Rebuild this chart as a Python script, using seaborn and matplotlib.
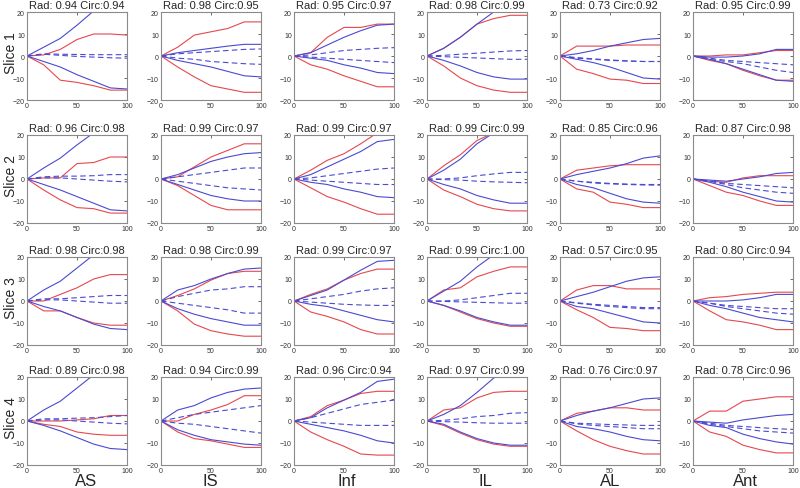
import matplotlib
matplotlib.use("Agg")
import matplotlib.pyplot as plt
import seaborn as sns

pct = [0, 16.7, 33.3, 50, 66.7, 83.3, 100]
slices = ["Slice 1", "Slice 2", "Slice 3", "Slice 4"]
segments = ["AS", "IS", "Inf", "IL", "AL", "Ant"]

rad = [[0.94, 0.98, 0.95, 0.98, 0.73, 0.95],
       [0.96, 0.99, 0.99, 0.99, 0.85, 0.87],
       [0.98, 0.98, 0.99, 0.99, 0.57, 0.80],
       [0.89, 0.94, 0.96, 0.97, 0.76, 0.78]]
circ = [[0.94, 0.95, 0.97, 0.99, 0.92, 0.99],
        [0.98, 0.97, 0.97, 0.99, 0.96, 0.98],
        [0.98, 0.99, 0.97, 1.00, 0.95, 0.94],
        [0.98, 0.99, 0.94, 0.99, 0.97, 0.96]]

# red solid, upper envelope
red_upper = [
    [[0, 0.5, 3, 7.5, 10, 10, 9.5], [0, 4, 9.5, 11, 12.5, 15.5, 15.5], [0, 1.5, 8.5, 13, 13, 14.5, 14.5],
     [0, 3.5, 8.5, 14.5, 17, 18.5, 18.5], [0, 4.5, 4.5, 4.5, 5, 5, 5], [0, 0, 0.5, 0.5, 1.5, 2.5, 2.5]],
    [[0, 0.5, 0.5, 7, 7.5, 10, 10], [0, 1, 5.5, 10, 13, 16, 16], [0, 4, 8.5, 11.5, 16, 21, 26],
     [0, 6, 11, 17.5, 21, 24, 26], [0, 4, 5, 6, 6.5, 6.5, 6.5], [0, -1, -1.5, 0.5, 1.5, 1.5, 1.5]],
    [[0, 0, 3, 6, 10, 12, 12], [0, 2.5, 5.5, 9.5, 12.5, 13.5, 13.5], [0, 3, 5.5, 9.5, 12.5, 14.5, 14.5],
     [0, 5, 6, 11, 13.5, 15.5, 15.5], [0, 5, 7, 7, 5.5, 5.5, 5.5], [0, 1.5, 2, 3, 3.5, 4, 4]],
    [[0, 0, 0, 0.5, 1, 2.5, 2.5], [0, 0, 3, 5, 7.5, 11.5, 11.5], [0, 2, 7, 9.5, 12.5, 13.5, 13.5],
     [0, 5, 6, 10.5, 13, 13.5, 13.5], [0, 3.5, 4.5, 6, 6, 5, 5], [0, 4.5, 4.5, 9, 10, 11, 11]],
]
# red solid, lower envelope
red_lower = [
    [[0, -4, -11, -12, -13.5, -15.5, -15.5], [0, -5, -9.5, -13.5, -15, -16.5, -16.5], [0, -4, -6, -9, -11.5, -14, -14],
     [0, -4.5, -10, -13.5, -15.5, -16.5, -16.5], [0, -6, -8, -10.5, -11, -12.5, -12.5], [0, -2, -3.5, -6.5, -9, -11, -11]],
    [[0, -5, -9.5, -13, -13.5, -15.5, -15.5], [0, -3, -7.5, -12, -14, -14, -14], [0, -4, -8, -10.5, -13.5, -16, -16],
     [0, -5, -8, -11.5, -13.5, -14.5, -14.5], [0, -4.5, -6, -10.5, -11.5, -13, -13], [0, -3, -6, -7.5, -10, -12, -12]],
    [[0, -4.5, -4.5, -7.5, -10, -11, -11], [0, -4.5, -10.5, -13.5, -15, -16, -16], [0, -5, -7, -9.5, -13, -15, -15],
     [0, -2, -5, -8, -10, -11.5, -11.5], [0, -4, -7.5, -12, -12.5, -13.5, -13.5], [0, -4.5, -8.5, -9.5, -11, -13, -13]],
    [[0, -1.5, -2.5, -5, -6, -6.5, -6.5], [0, -5, -8, -9, -10.5, -12, -12], [0, -5, -8.5, -11.5, -15, -15.5, -15.5],
     [0, -2, -5.5, -8.5, -10.5, -11.5, -11.5], [0, -4.5, -8.5, -11.5, -13.5, -15, -15], [0, -5, -7, -11, -13, -14.5, -14.5]],
]
# blue solid, upper envelope
blue_upper = [
    [[0, 4, 8, 14, 20.5, 27, 33], [0, 1.5, 2.5, 3.5, 4.5, 5.3, 5.3], [0, 1.5, 5, 8.5, 11.5, 14, 14.5],
     [0, 3.5, 8.5, 14.5, 20, 25, 28], [0, 1, 2.5, 4.5, 6, 7.5, 8], [0, -0.5, -0.5, 0, 1, 3, 3]],
    [[0, 5, 9.5, 15.5, 21, 27, 32], [0, 2, 5, 8, 10, 11.5, 12], [0, 2, 5.5, 9, 12.5, 17, 18],
     [0, 4, 9, 16, 21, 26, 30], [0, 2, 3.5, 5, 7, 9.5, 10.5], [0, -0.5, -1, 0, 1, 2.5, 3]],
    [[0, 5, 9, 15, 21, 27, 32], [0, 5, 7, 10, 12.5, 14.5, 15], [0, 2.5, 5, 9.5, 14, 18, 18.5],
     [0, 4.5, 9, 15.5, 21, 27, 32], [0, 2, 4, 6.5, 9, 10.5, 11], [0, 0, 0, 0.5, 1.5, 3, 3]],
    [[0, 5, 9, 15, 21, 27, 32], [0, 5, 7, 10.5, 13, 14.5, 15], [0, 1.5, 6, 9.5, 13, 18, 19],
     [0, 3, 7, 13, 19.5, 25, 30], [0, 2.5, 4.5, 6, 8, 10, 10.5], [0, -0.5, -1, 0.5, 1.5, 2.5, 3]],
]
# blue solid, lower envelope
blue_lower = [
    [[0, -2.5, -5, -8.5, -11.5, -14.5, -15], [0, -2, -3.5, -5, -7, -9, -9.5], [0, -1, -2, -4, -5.5, -7.5, -8],
     [0, -2, -4.5, -7.5, -9.5, -10.5, -10.5], [0, -1.5, -3, -5, -7.5, -10, -10.5], [0, -1.5, -3.5, -6, -8.5, -11, -11.5]],
    [[0, -2.5, -5, -8, -11, -14, -14.5], [0, -2.5, -5, -7.5, -9, -10, -10], [0, -1.5, -2.5, -4.5, -6, -8, -8.5],
     [0, -2.5, -4.5, -7.5, -9.5, -11, -11], [0, -2.5, -4, -6.5, -9, -10.5, -11], [0, -1.5, -3.5, -6, -8, -10, -10.5]],
    [[0, -2.5, -4.5, -7.5, -10.5, -12.5, -13], [0, -3.5, -6, -8, -9.5, -11, -11], [0, -1.5, -2.5, -4.5, -6.5, -8.5, -9.5],
     [0, -2, -4.5, -7.5, -9.5, -11, -11], [0, -2.5, -3.5, -5.5, -7.5, -9.5, -10], [0, -2, -3.5, -5.5, -7.5, -8.5, -9.5]],
    [[0, -2, -4.5, -7.5, -10.5, -12.5, -13], [0, -4, -6.5, -8.5, -9.5, -10.5, -11], [0, -1.5, -3, -4.5, -6.5, -9, -10],
     [0, -1.5, -5, -8, -10, -11, -11], [0, -2.5, -3.5, -5, -7, -8.5, -9], [0, -2, -3, -6, -8, -9.5, -10.5]],
]
# blue dashed, upper
dash_upper = [
    [[0, 1, 0.8, 0.7, 0.6, 0.6, 0.6], [0, 1, 1.5, 2, 2.5, 3, 3.2], [0, 0.5, 1.5, 2.5, 3, 3.5, 3.8],
     [0, 0.3, 0.8, 1.3, 1.8, 2.3, 2.5], [0, -0.7, -1.3, -1.8, -2.2, -2.5, -2.5], [0, -1, -2, -2.5, -3, -3.5, -4]],
    [[0, 1, 1.3, 1.3, 1.5, 2, 2], [0, 1, 2, 3, 4, 5, 5], [0, 0.5, 1.5, 2.5, 3.5, 4.5, 5],
     [0, 0, 0.5, 1.5, 2.3, 3, 3], [0, -1, -1.5, -2, -2.3, -2.5, -2.5], [0, -1, -2, -2.5, -3, -3.5, -4]],
    [[0, 1, 1, 1.5, 2, 2.5, 2.5], [0, 2, 3.5, 5, 5.5, 6.5, 6.5], [0, 1, 2, 3, 4.5, 5.5, 6],
     [0, 0, 0.5, 1.5, 2.5, 3.5, 3.5], [0, -0.8, -1.5, -2, -2.5, -3, -3], [0, -1, -2, -2.5, -3, -3.5, -3.5]],
    [[0, 1, 1, 1.3, 1.5, 2, 2.5], [0, 1.5, 3, 4, 5, 6, 7], [0, 1.5, 3.5, 5.5, 7.5, 8.5, 9.5],
     [0, 0.3, 1, 2, 2.5, 3.5, 3.8], [0, -1, -1.3, -1.6, -1.8, -2, -2], [0, -1, -2, -2.5, -3, -3.5, -3.8]],
]
# blue dashed, lower
dash_lower = [
    [[0, 0.8, 0.3, -0.2, -0.5, -0.8, -1], [0, -1, -1.5, -2.5, -3, -3.5, -3.8], [0, -0.5, -1, -1.5, -2, -2.5, -3],
     [0, -0.3, -0.6, -0.9, -1.2, -1.5, -1.5], [0, -1, -1.5, -2, -2.3, -2.5, -2.5], [0, -1.5, -2.5, -3.5, -5, -6.5, -7.5]],
    [[0, 0.5, 0.5, 0, -0.5, -1, -1.3], [0, -1, -2, -3, -4, -4.5, -5], [0, -0.5, -1, -1.5, -2, -2.5, -2.5],
     [0, -0.3, -0.5, -1, -1.3, -1.5, -1.7], [0, -1, -1.8, -2.2, -2.5, -2.7, -2.8], [0, -1, -2.5, -4, -5, -6, -6.5]],
    [[0, 0.5, 0.5, 0, -0.5, -1, -1], [0, -1, -2, -3, -4, -5.5, -5.5], [0, -0.5, -1, -1.5, -1.8, -2, -2],
     [0, -0.2, -0.4, -0.6, -0.8, -1, -1], [0, -1, -1.8, -2.5, -3, -3.5, -3.5], [0, -1, -2.5, -3.5, -4.5, -5.5, -6]],
    [[0, 0.5, 0.5, 0, -0.5, -1, -1.3], [0, -1, -1.5, -2.5, -3.5, -4.5, -5.5], [0, -0.5, -1, -1.5, -2, -2, -2],
     [0, -0.3, -0.5, -0.8, -1, -1, -1], [0, -1.3, -2, -2.5, -3, -3.5, -3.5], [0, -1.5, -2.5, -3.5, -4.5, -5, -5.5]],
]

RED = "#e5484d"
BLUE = "#4a4ad2"

sns.set_style("white")
plt.rcParams["font.family"] = ["Liberation Sans", "DejaVu Sans"]

W, H = 800, 489
fig = plt.figure(figsize=(8, 4.89), dpi=100)

col_left = [27, 161, 294, 427, 560, 693]
row_top = [13, 136, 258, 378]
ax_w, ax_h = 100, 88
seg_x = [86, 210, 347, 485, 610, 745]

for r in range(4):
    for c in range(6):
        ax = fig.add_axes([col_left[c] / W, 1 - (row_top[r] + ax_h) / H, ax_w / W, ax_h / H])
        series = [
            (red_upper, RED, "-"), (red_lower, RED, "-"),
            (blue_upper, BLUE, "-"), (blue_lower, BLUE, "-"),
            (dash_upper, BLUE, (0, (5, 3))), (dash_lower, BLUE, (0, (5, 3))),
        ]
        for arr, col, ls in series:
            sns.lineplot(x=pct, y=arr[r][c], color=col, linestyle=ls, linewidth=0.8, ax=ax)
        ax.set_xlim(0, 100)
        ax.set_ylim(-20, 20)
        ax.set_xticks([0, 50, 100])
        ax.set_yticks([-20, -10, 0, 10, 20])
        ax.tick_params(direction="in", length=2, width=0.5, top=True, right=True,
                       labelsize=5, pad=1.5, colors="#333333")
        for sp in ax.spines.values():
            sp.set_color("#8a8a8a")
            sp.set_linewidth(0.8)
        ax.set_title(f"Rad: {rad[r][c]:.2f} Circ:{circ[r][c]:.2f}", fontsize=8, pad=3)

    fig.text(11 / W, 1 - (row_top[r] + ax_h / 2 - 4) / H, slices[r], rotation=90,
             fontsize=10, ha="center", va="center")

for c in range(6):
    fig.text(seg_x[c] / W, 1 - 482 / H, segments[c], fontsize=12, ha="center", va="center")

fig.savefig("out.png", dpi=100)
